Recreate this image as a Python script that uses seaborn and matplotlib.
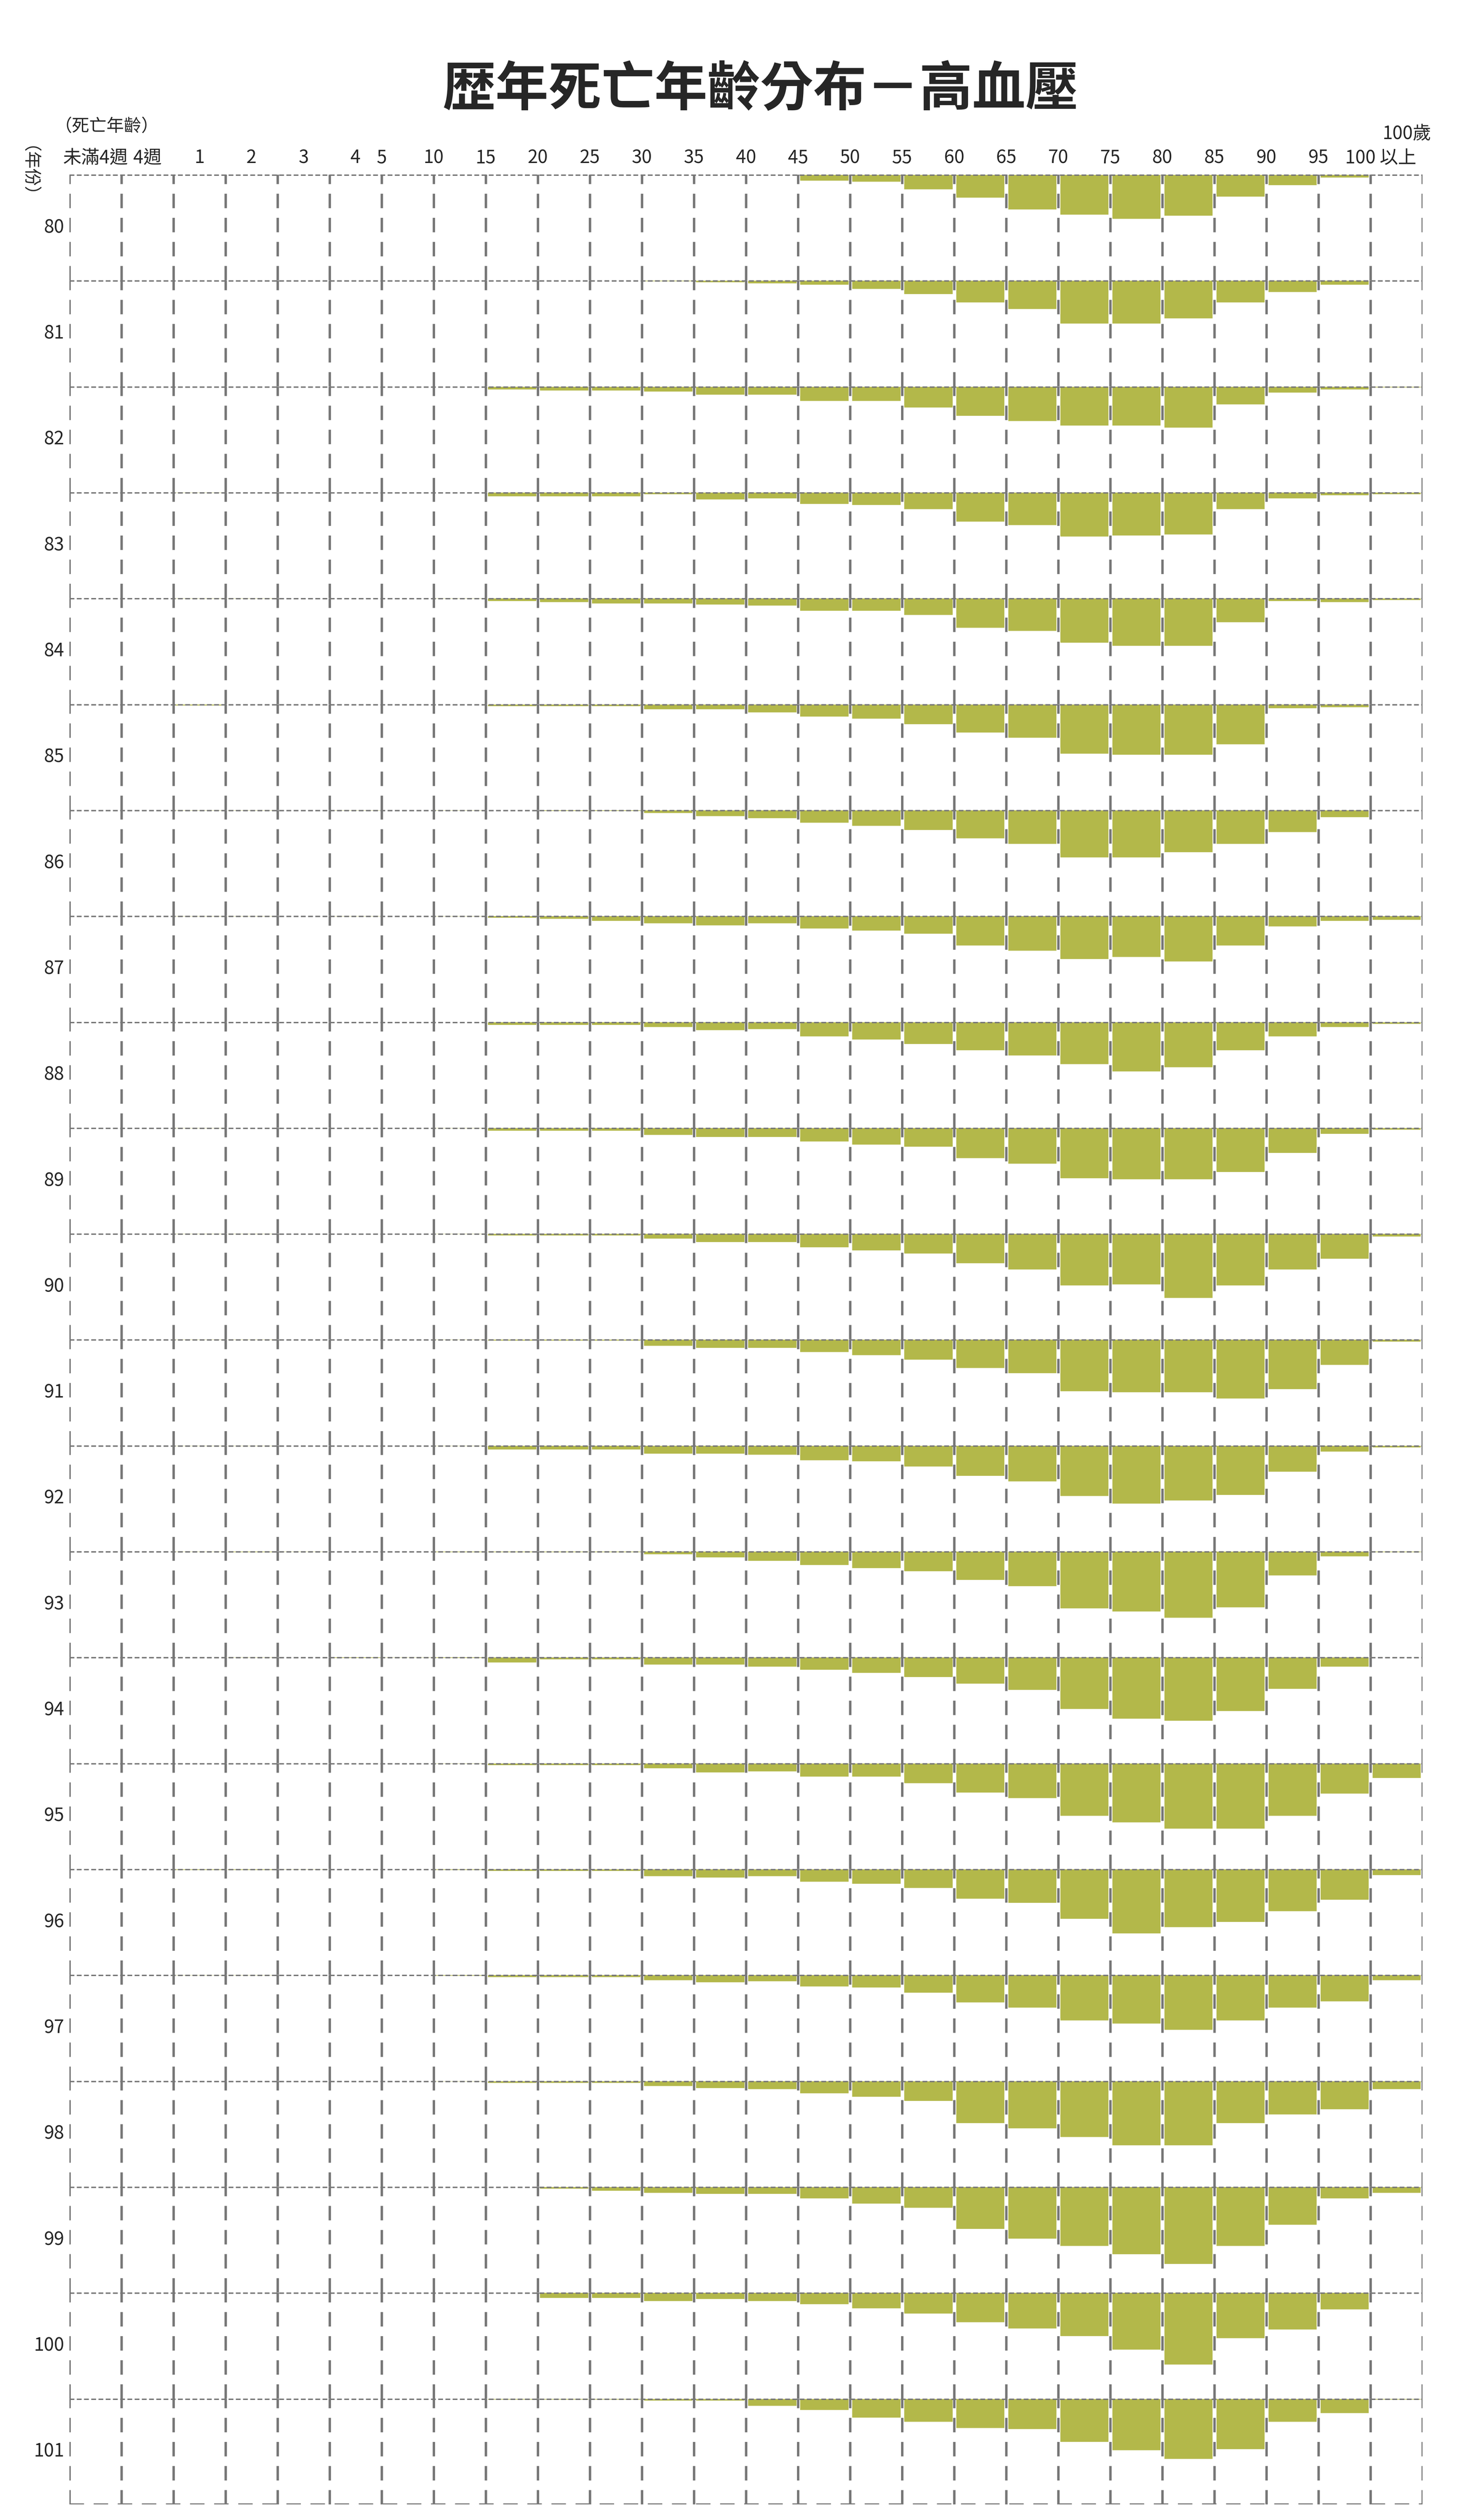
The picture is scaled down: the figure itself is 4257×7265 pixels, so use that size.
import numpy as np
import pandas as pd
import matplotlib
matplotlib.use("Agg")
import matplotlib.pyplot as plt
import seaborn as sns

# death age groups (columns)
age_groups = ["未滿4週", "4週", "1", "2", "3", "4", "5", "10", "15", "20", "25", "30",
              "35", "40", "45", "50", "55", "60", "65", "70", "75", "80", "85", "90", "95", "100"]
years = [str(y) for y in range(80, 102)]

# share of each row height (percent) reached by each bar
y80 = [0, 0, 0, 0, 0, 0, 0, 0, 0, 0, 0, 0, 0, 0, 6, 7, 14, 22, 33, 38, 42, 39, 21, 10, 3, 0]
y81 = [0, 0, 0, 0, 0, 0, 0, 0, 0, 0, 0, 1, 2, 3, 4, 8, 13, 21, 27, 41, 41, 36, 21, 11, 4, 0]
y82 = [0, 0, 0, 0, 0, 0.6, 0.6, 0, 3, 4, 4, 5, 8, 8, 14, 14, 20, 28, 33, 37, 37, 39, 17, 6, 3, 1]
y83 = [0, 0, 0.6, 0, 0, 0, 0, 0, 4, 4, 4, 2, 7, 6, 11, 12, 16, 28, 31, 42, 41, 40, 16, 6, 3, 2]
y84 = [0, 0, 0.6, 0.6, 0, 0, 0, 0.6, 3, 4, 5, 5, 6, 7, 12, 12, 16, 28, 31, 42, 45, 45, 23, 3, 4, 2]
y85 = [0, 0, 1.5, 0, 0, 0, 0.6, 0.6, 2, 2, 2, 5, 5, 8, 12, 14, 19, 27, 32, 47, 48, 48, 38, 4, 3, 0]
y86 = [0, 0, 0.8, 0.6, 0, 0.6, 0, 0.6, 0.5, 1, 1, 3, 6, 8, 12, 15, 19, 27, 32, 45, 45, 40, 32, 21, 7, 0]
y87 = [0, 0, 0.5, 0.5, 0, 0.5, 0, 0.6, 2, 3, 5, 7, 9, 7, 12, 14, 17, 28, 33, 41, 39, 43, 28, 10, 5, 4]
y88 = [0, 0, 0.5, 0.5, 0, 0, 0, 0.6, 3, 3, 3, 5, 8, 7, 14, 17, 21, 27, 32, 40, 47, 43, 27, 14, 5, 2]
y89 = [0, 0, 0.8, 0.5, 0, 0, 0, 0.8, 3, 3, 3, 7, 9, 9, 13, 16, 18, 29, 34, 48, 49, 49, 42, 24, 6, 2]
y90 = [0, 0, 0.5, 0.5, 0, 0, 0, 0.6, 2, 2, 2, 5, 8, 8, 13, 16, 19, 28, 34, 49, 48, 61, 49, 34, 24, 3]
y91 = [0, 0, 0.5, 0.5, 0, 0, 0, 0.6, 1, 1, 1, 6, 8, 8, 12, 15, 19, 27, 32, 49, 50, 50, 56, 47, 24, 2]
y92 = [0, 0, 0.8, 0.8, 0, 0, 0, 0.8, 4, 4, 4, 8, 8, 9, 14, 15, 20, 29, 34, 48, 55, 52, 47, 25, 6, 2]
y93 = [0, 0, 0.6, 1, 0.5, 0, 0, 0.8, 1, 1, 1, 3, 6, 9, 13, 16, 19, 27, 33, 54, 57, 63, 53, 23, 5, 1]
y94 = [0, 0, 0, 0.6, 0, 0.8, 0.6, 0.8, 5, 2, 2, 7, 7, 9, 12, 15, 19, 25, 31, 49, 58, 60, 51, 30, 9, 0]
y95 = [0, 0, 0, 0, 0, 0, 0, 0.8, 2, 2, 2, 5, 9, 8, 13, 13, 19, 28, 33, 50, 56, 62, 62, 50, 29, 14]
y96 = [0, 0, 0.8, 0.8, 0.6, 0, 0, 0.8, 2, 2, 2, 7, 8, 7, 12, 14, 18, 28, 32, 47, 61, 55, 50, 40, 29, 6]
y97 = [0, 0, 0.5, 0.5, 0, 0, 0, 0.8, 2, 2, 2, 5, 7, 6, 11, 12, 17, 26, 31, 43, 46, 52, 43, 31, 25, 5]
y98 = [0, 0, 0, 0, 0, 0, 0, 0.8, 2, 2, 2, 5, 7, 8, 12, 15, 19, 40, 45, 53, 61, 61, 40, 32, 27, 8]
y99 = [0, 0, 0, 0, 0, 0, 0, 0, 0, 2, 4, 6, 7, 7, 11, 16, 20, 40, 49, 56, 64, 73, 56, 36, 11, 6]
y100 = [0, 0, 0, 0, 0, 0, 0, 0, 0, 5, 5, 8, 6, 8, 11, 15, 20, 28, 34, 41, 54, 68, 43, 35, 16, 0]
y101 = [0, 0, 0, 0, 0, 0, 0.5, 0.5, 1, 1, 1, 2, 2, 7, 11, 18, 22, 28, 29, 41, 49, 57, 48, 22, 14, 1]
rows = [y80, y81, y82, y83, y84, y85, y86, y87, y88, y89, y90, y91,
        y92, y93, y94, y95, y96, y97, y98, y99, y100, y101]

bar_color = "#B3B84A"
grid_color = "#777777"

sns.set_theme(style="white")
plt.rcParams['font.family'] = ['Noto Sans CJK TC', 'DejaVu Sans']

W, H = 4257, 7265
fig = plt.figure(figsize=(W / 100, H / 100), dpi=100)
left, right = 200 / W, 4100 / W
top, bottom = 1 - 503 / H, 1 - 7220 / H
gs = fig.add_gridspec(len(years), 1, left=left, right=right, top=top, bottom=bottom, hspace=0)

ncol = len(age_groups)
for r, (yr, vals) in enumerate(zip(years, rows)):
    ax = fig.add_subplot(gs[r, 0])
    df = pd.DataFrame({"age": age_groups, "pct": vals})
    sns.barplot(data=df, x="age", y="pct", order=age_groups, color=bar_color,
                width=0.94, saturation=1, ax=ax, zorder=1)
    ax.set_xlim(-0.5, ncol - 0.5)
    ax.set_ylim(100, 0)
    for xb in np.arange(ncol + 1) - 0.5:
        ax.axvline(xb, color=grid_color, lw=5, linestyle=(0, (6, 4)), zorder=3)
    ax.axhline(0, color=grid_color, lw=5, linestyle=(0, (2, 1)), zorder=3)
    if r == len(years) - 1:
        ax.axhline(100, color=grid_color, lw=5, linestyle=(0, (6, 4)), zorder=3)
    for s in ax.spines.values():
        s.set_visible(False)
    ax.set_xticks([])
    ax.set_yticks([])
    ax.set_xlabel("")
    ax.set_ylabel("")
    ax.text(-0.6, 50, yr, ha="right", va="center", fontsize=38, fontweight="medium")

# header texts
colw = (right - left) / ncol
def col_x(i):
    return left + (i + 0.5) * colw

lab_y = 1 - 455 / H
for i, lab in enumerate(age_groups):
    if i <= 5:
        xpos = col_x(i)
    else:
        xpos = left + i * colw
    if i == ncol - 1:
        fig.text(xpos + 0.2 * colw, lab_y, "100 以上", ha="center", va="center",
                 fontsize=38, fontweight="medium")
    else:
        fig.text(xpos, lab_y, lab, ha="center", va="center", fontsize=38, fontweight="medium")
fig.text(left + 25.7 * colw, 1 - 385 / H, "100歲", ha="center", va="center",
         fontsize=38, fontweight="medium")
fig.text(left - 0.01, 1 - 365 / H, "（死亡年齡）", ha="left", va="center",
         fontsize=36, fontweight="medium")
fig.text(0.013, 1 - 520 / H, "（年份）", ha="center", va="center", fontsize=36,
         rotation=270, fontweight="medium")

fig.text(0.515, 1 - 260 / H, "歴年死亡年齡分布－高血壓", ha="center", va="center",
         fontsize=110, fontweight="bold")

fig.savefig("out.png", dpi=100, facecolor="white")
